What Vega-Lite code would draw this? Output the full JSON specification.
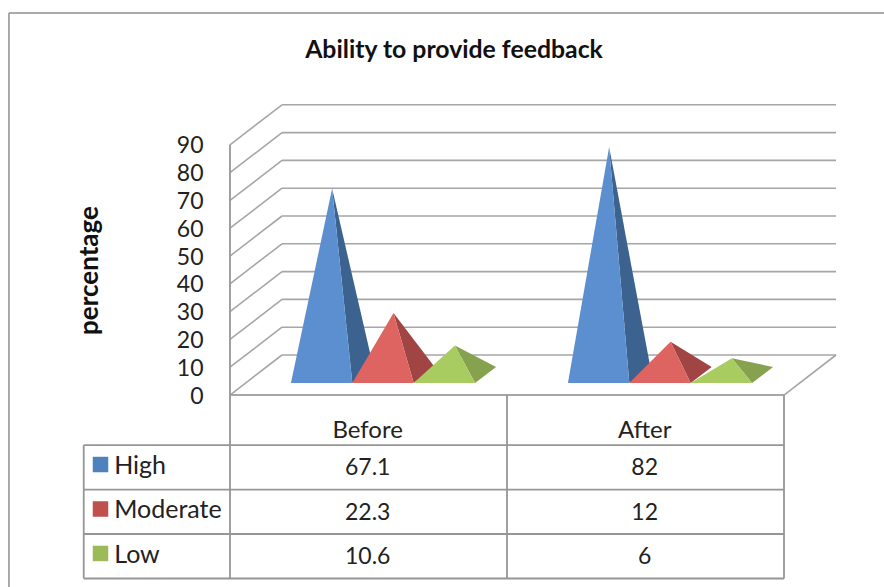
{
  "$schema": "https://vega.github.io/schema/vega-lite/v6.json",
  "width": 884,
  "height": 587,
  "padding": 0,
  "autosize": {"type": "none"},
  "background": "white",
  "title": {
    "text": "Ability to provide feedback",
    "anchor": "middle",
    "frame": "group",
    "dx": 12,
    "dy": 83,
    "offset": 0,
    "baseline": "alphabetic",
    "font": "Lato",
    "fontSize": 24.8,
    "fontWeight": 700,
    "color": "#111111"
  },
  "config": {"view": {"stroke": null}},
  "datasets": {
    "readings": [
      {"group": "Before", "series": "High", "value": 67.1},
      {"group": "Before", "series": "Moderate", "value": 22.3},
      {"group": "Before", "series": "Low", "value": 10.6},
      {"group": "After", "series": "High", "value": 82},
      {"group": "After", "series": "Moderate", "value": 12},
      {"group": "After", "series": "Low", "value": 6}
    ],
    "ticks": [
      {"tick": 0}, {"tick": 10}, {"tick": 20}, {"tick": 30}, {"tick": 40},
      {"tick": 50}, {"tick": 60}, {"tick": 70}, {"tick": 80}, {"tick": 90}
    ],
    "groups": [{"group": "Before"}, {"group": "After"}],
    "seriesList": [{"series": "High"}, {"series": "Moderate"}, {"series": "Low"}],
    "single": [{}]
  },
  "data": {"name": "readings"},
  "layer": [
    {
      "description": "Outer chart frame, left edge; also carries the value axis on the front wall edge",
      "data": {"name": "single"},
      "mark": {"type": "rule", "stroke": "#8f8f8f", "strokeWidth": 1.5},
      "encoding": {
        "x": {"datum": -0.798, "type": "quantitative", "axis": null, "scale": {"domain": [-0.8303, 2.361], "nice": false, "zero": false}},
        "y": {
          "datum": 137.4,
          "type": "quantitative",
          "scale": {"domain": [-69.06, 142.09], "nice": false, "zero": false},
          "axis": {
            "orient": "left",
            "offset": -230,
            "values": [0, 10, 20, 30, 40, 50, 60, 70, 80, 90],
            "domain": false,
            "ticks": false,
            "grid": false,
            "labelFont": "Lato",
            "labelFontSize": 23,
            "labelColor": "#222222",
            "labelPadding": 27,
            "labelBaseline": "middle",
            "labelOffset": 1,
            "labelOverlap": false,
            "title": "percentage",
            "titleFont": "Lato",
            "titleFontSize": 26,
            "titleFontWeight": 700,
            "titleColor": "#111111",
            "titleAngle": 270,
            "titleAlign": "center",
            "titleBaseline": "middle",
            "titleX": -141,
            "titleY": 270
          }
        },
        "y2": {"datum": -69.06}
      }
    },
    {
      "data": {"name": "single"},
      "mark": {"type": "rule", "stroke": "#8f8f8f", "strokeWidth": 1.5},
      "encoding": {
        "x": {"datum": -0.798, "type": "quantitative", "axis": null},
        "x2": {"datum": 2.361},
        "y": {"datum": 137.4, "type": "quantitative", "axis": null}
      }
    },
    {
      "description": "Side wall gridlines",
      "data": {"name": "ticks"},
      "mark": {"type": "rule", "stroke": "#a6a6a6", "strokeWidth": 1.6},
      "transform": [
        {"calculate": "datum.tick + 14.39", "as": "backY"},
        {"calculate": "0.1877", "as": "backX"},
        {"calculate": "0", "as": "frontX"}
      ],
      "encoding": {
        "x": {"field": "frontX", "type": "quantitative", "axis": null},
        "x2": {"field": "backX"},
        "y": {"field": "tick", "type": "quantitative", "axis": null},
        "y2": {"field": "backY"}
      }
    },
    {
      "description": "Back wall gridlines",
      "data": {"name": "ticks"},
      "mark": {"type": "rule", "stroke": "#a6a6a6", "strokeWidth": 1.6},
      "transform": [
        {"calculate": "datum.tick + 14.39", "as": "backY"},
        {"calculate": "0.1877", "as": "backX"},
        {"calculate": "2.1877", "as": "endX"}
      ],
      "encoding": {
        "x": {"field": "backX", "type": "quantitative", "axis": null},
        "x2": {"field": "endX"},
        "y": {"field": "backY", "type": "quantitative", "axis": null}
      }
    },
    {
      "description": "Right edge of the floor",
      "data": {"name": "single"},
      "mark": {"type": "rule", "stroke": "#a6a6a6", "strokeWidth": 1.6},
      "encoding": {
        "x": {"datum": 2, "type": "quantitative", "axis": null},
        "x2": {"datum": 2.1877},
        "y": {"datum": 0, "type": "quantitative", "axis": null},
        "y2": {"datum": 14.39}
      }
    },
    {
      "description": "Shaded right faces of the pyramids",
      "mark": {"type": "line", "strokeWidth": 0, "interpolate": "linear"},
      "transform": [
        {"calculate": "indexof(['Before','After'], datum.group)", "as": "g"},
        {"calculate": "indexof(['High','Moderate','Low'], datum.series)", "as": "s"},
        {"calculate": "datum.g + 0.22 + datum.s * 0.2216 + 0.2216", "as": "frontRight"},
        {"calculate": "datum.frontRight - 0.1108 + 0.0379", "as": "apex"},
        {"calculate": "datum.frontRight + 0.0758", "as": "backRight"},
        {"calculate": "datum.series + ' side'", "as": "face"},
        {"fold": ["apex", "frontRight", "backRight"], "as": ["vertex", "vx"]},
        {"calculate": "datum.vertex === 'apex' ? 7.19 + datum.value : datum.vertex === 'frontRight' ? 4.32 : 10.07", "as": "vy"}
      ],
      "encoding": {
        "x": {"field": "vx", "type": "quantitative", "axis": null},
        "y": {"field": "vy", "type": "quantitative", "axis": null},
        "detail": {"field": "group"},
        "fill": {
          "field": "face",
          "type": "nominal",
          "legend": null,
          "scale": {
            "domain": ["High side", "Moderate side", "Low side"],
            "range": ["#3c628f", "#a04543", "#86a24e"]
          }
        }
      }
    },
    {
      "description": "Front faces of the pyramids",
      "mark": {"type": "line", "strokeWidth": 0, "interpolate": "linear"},
      "transform": [
        {"calculate": "indexof(['Before','After'], datum.group)", "as": "g"},
        {"calculate": "indexof(['High','Moderate','Low'], datum.series)", "as": "s"},
        {"calculate": "datum.g + 0.22 + datum.s * 0.2216", "as": "frontLeft"},
        {"calculate": "datum.frontLeft + 0.2216", "as": "frontRight"},
        {"calculate": "datum.frontLeft + 0.1108 + 0.0379", "as": "apex"},
        {"fold": ["frontLeft", "apex", "frontRight"], "as": ["vertex", "vx"]},
        {"calculate": "datum.vertex === 'apex' ? 7.19 + datum.value : 4.32", "as": "vy"}
      ],
      "encoding": {
        "x": {"field": "vx", "type": "quantitative", "axis": null},
        "y": {"field": "vy", "type": "quantitative", "axis": null},
        "detail": {"field": "group"},
        "fill": {
          "field": "series",
          "type": "nominal",
          "legend": null,
          "scale": {
            "domain": ["High", "Moderate", "Low"],
            "range": ["#5b8fcf", "#de6461", "#a8cc60"]
          }
        }
      }
    },
    {
      "description": "Floor front edge and table header rule",
      "data": {"name": "single"},
      "mark": {"type": "rule", "stroke": "#a6a6a6", "strokeWidth": 1.8},
      "encoding": {
        "x": {"datum": 0, "type": "quantitative", "axis": null},
        "x2": {"datum": 2},
        "y": {"datum": 0, "type": "quantitative", "axis": null}
      }
    },
    {
      "description": "Front wall edge running down into the table",
      "data": {"name": "single"},
      "mark": {"type": "rule", "stroke": "#969696", "strokeWidth": 1.8},
      "encoding": {
        "x": {"datum": 0, "type": "quantitative", "axis": null},
        "y": {"datum": 90, "type": "quantitative", "axis": null},
        "y2": {"datum": -66}
      }
    },
    {
      "description": "Table column separators",
      "data": {"name": "groups"},
      "mark": {"type": "rule", "stroke": "#969696", "strokeWidth": 1.8},
      "transform": [
        {"calculate": "indexof(['Before','After'], datum.group) + 1", "as": "colRight"},
        {"calculate": "0", "as": "top"},
        {"calculate": "-66", "as": "bottom"}
      ],
      "encoding": {
        "x": {"field": "colRight", "type": "quantitative", "axis": null},
        "y": {"field": "top", "type": "quantitative", "axis": null},
        "y2": {"field": "bottom"}
      }
    },
    {
      "description": "Left edge of the series column",
      "data": {"name": "single"},
      "mark": {"type": "rule", "stroke": "#969696", "strokeWidth": 1.8},
      "encoding": {
        "x": {"datum": -0.528, "type": "quantitative", "axis": null},
        "y": {"datum": -18, "type": "quantitative", "axis": null},
        "y2": {"datum": -66}
      }
    },
    {
      "description": "Top rule of the table body",
      "data": {"name": "single"},
      "mark": {"type": "rule", "stroke": "#969696", "strokeWidth": 1.8},
      "encoding": {
        "x": {"datum": -0.528, "type": "quantitative", "axis": null},
        "x2": {"datum": 2},
        "y": {"datum": -18, "type": "quantitative", "axis": null}
      }
    },
    {
      "description": "Rule under each table row",
      "data": {"name": "seriesList"},
      "mark": {"type": "rule", "stroke": "#969696", "strokeWidth": 1.8},
      "transform": [
        {"calculate": "-34 - 16 * indexof(['High','Moderate','Low'], datum.series)", "as": "rowBottom"},
        {"calculate": "-0.528", "as": "tableLeft"},
        {"calculate": "2", "as": "tableRight"}
      ],
      "encoding": {
        "x": {"field": "tableLeft", "type": "quantitative", "axis": null},
        "x2": {"field": "tableRight"},
        "y": {"field": "rowBottom", "type": "quantitative", "axis": null}
      }
    },
    {
      "description": "Group names in the table header",
      "data": {"name": "groups"},
      "mark": {"type": "text", "font": "Lato", "fontSize": 24, "color": "#222222", "baseline": "middle", "align": "center"},
      "transform": [
        {"calculate": "indexof(['Before','After'], datum.group) + 0.497", "as": "colMid"},
        {"calculate": "-12.9", "as": "headerY"}
      ],
      "encoding": {
        "x": {"field": "colMid", "type": "quantitative", "axis": null},
        "y": {"field": "headerY", "type": "quantitative", "axis": null},
        "text": {"field": "group"}
      }
    },
    {
      "description": "Table values, from the same rows as the pyramids",
      "mark": {"type": "text", "font": "Lato", "fontSize": 23, "color": "#222222", "baseline": "middle", "align": "center"},
      "transform": [
        {"calculate": "indexof(['Before','After'], datum.group) + 0.497", "as": "colMid"},
        {"calculate": "-26.4 - 16 * indexof(['High','Moderate','Low'], datum.series)", "as": "rowMid"}
      ],
      "encoding": {
        "x": {"field": "colMid", "type": "quantitative", "axis": null},
        "y": {"field": "rowMid", "type": "quantitative", "axis": null},
        "text": {"field": "value", "type": "quantitative"}
      }
    },
    {
      "description": "Series names in the table",
      "data": {"name": "seriesList"},
      "mark": {"type": "text", "font": "Lato", "fontSize": 25, "color": "#222222", "baseline": "middle", "align": "left"},
      "transform": [
        {"calculate": "-25.4 - 16 * indexof(['High','Moderate','Low'], datum.series)", "as": "rowMid"},
        {"calculate": "-0.418", "as": "labelX"}
      ],
      "encoding": {
        "x": {"field": "labelX", "type": "quantitative", "axis": null},
        "y": {"field": "rowMid", "type": "quantitative", "axis": null},
        "text": {"field": "series"}
      }
    },
    {
      "description": "Legend keys beside the series names",
      "data": {"name": "seriesList"},
      "mark": {"type": "square", "size": 240, "opacity": 1},
      "transform": [
        {"calculate": "-25 - 16 * indexof(['High','Moderate','Low'], datum.series)", "as": "rowMid"},
        {"calculate": "-0.4675", "as": "keyX"},
        {"calculate": "datum.series + ' key'", "as": "key"}
      ],
      "encoding": {
        "x": {"field": "keyX", "type": "quantitative", "axis": null},
        "y": {"field": "rowMid", "type": "quantitative", "axis": null},
        "color": {
          "field": "key",
          "type": "nominal",
          "legend": null,
          "scale": {
            "domain": ["High key", "Moderate key", "Low key"],
            "range": ["#4f81bd", "#c0504d", "#9bbb59"]
          }
        }
      }
    }
  ],
  "resolve": {
    "scale": {"fill": "independent", "color": "independent"},
    "axis": {"y": "independent"}
  }
}
